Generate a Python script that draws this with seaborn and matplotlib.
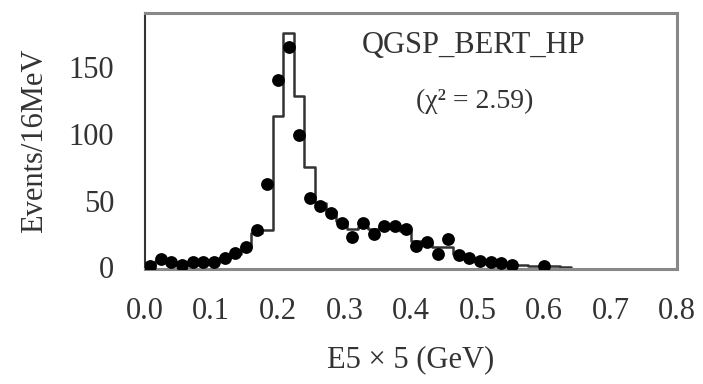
import numpy as np
import pandas as pd
import matplotlib
matplotlib.use("Agg")
import matplotlib.pyplot as plt
import seaborn as sns

# ---- data ----
bin_width = 0.016
# MC histogram (QGSP_BERT_HP), bins from 0.0 to 0.64
mc_counts = [2, 5, 4, 3, 4, 4, 5, 7, 10, 15, 26, 28, 113, 175, 128, 75,
             48, 42, 35, 29, 30, 29, 30, 30, 27, 20, 18, 15, 15, 10, 7, 5,
             4, 3, 2, 1.5, 1, 1, 1, 0.5]
# data points (bin centres)
data_x = [0.008, 0.024, 0.040, 0.056, 0.072, 0.088, 0.104, 0.120, 0.136,
          0.152, 0.168, 0.184, 0.200, 0.216, 0.232, 0.248, 0.264, 0.280,
          0.296, 0.312, 0.328, 0.344, 0.360, 0.376, 0.392, 0.408, 0.424,
          0.440, 0.456, 0.472, 0.488, 0.504, 0.520, 0.536, 0.552, 0.600]
data_y = [1, 6, 4, 2, 4, 4, 4, 7, 11, 15, 28, 62, 140, 165, 99, 52, 46, 41,
          33, 23, 33, 25, 31, 31, 29, 16, 19, 10, 21, 9, 7, 5, 4, 3, 2, 1]

xticks = [0.0, 0.1, 0.2, 0.3, 0.4, 0.5, 0.6, 0.7, 0.8]
yticks = [0, 50, 100, 150]
model_label = "QGSP_BERT_HP"
chi2_label = "(χ² = 2.59)"
xlabel = "E5 × 5 (GeV)"
ylabel = "Events/16MeV"

# ---- plot ----
sns.set_theme(style="white")
plt.rcParams['font.family'] = ['Liberation Serif', 'DejaVu Serif']

fig = plt.figure(figsize=(7.03, 3.84), dpi=100)
ax = fig.add_axes([0.206, 0.30, 0.757, 0.666])

n_bins = len(mc_counts)
centers = (np.arange(n_bins) + 0.5) * bin_width
mc_df = pd.DataFrame({"x": centers, "w": mc_counts})
sns.histplot(data=mc_df, x="x", weights="w", binwidth=bin_width,
             binrange=(0, n_bins * bin_width), element="step",
             fill=False, color="#333333", linewidth=1.8, ax=ax)

pts = pd.DataFrame({"x": data_x, "y": data_y})
sns.scatterplot(data=pts, x="x", y="y", s=85, color="black",
                edgecolor="black", linewidth=0, ax=ax, zorder=5)

ax.set_xlim(0, 0.8)
ax.set_ylim(-1, 190)
ax.set_xticks(xticks)
ax.set_xticklabels([f"{v:.1f}" for v in xticks])
ax.set_yticks(yticks)
ax.set_yticklabels([str(v) for v in yticks])
ax.tick_params(axis="both", direction="in", length=4, width=1,
               colors="#555555", labelcolor="#333333", labelsize=22)
ax.tick_params(axis="y", pad=22)
ax.tick_params(axis="x", pad=20)
ax.set_xlabel(xlabel, fontsize=22, color="#333333", labelpad=14)
ax.set_ylabel(ylabel, fontsize=22, color="#333333", labelpad=14)

for side, sp in ax.spines.items():
    sp.set_visible(True)
    sp.set_color("#888888")
    sp.set_linewidth(2.2)
ax.spines["left"].set_color("#333333")
ax.spines["left"].set_linewidth(1.5)

ax.text(0.617, 0.875, model_label, transform=ax.transAxes, fontsize=22,
        color="#333333", ha="center", va="center")
ax.text(0.62, 0.655, chi2_label, transform=ax.transAxes, fontsize=20,
        color="#333333", ha="center", va="center")

fig.savefig("out.png", dpi=100)
